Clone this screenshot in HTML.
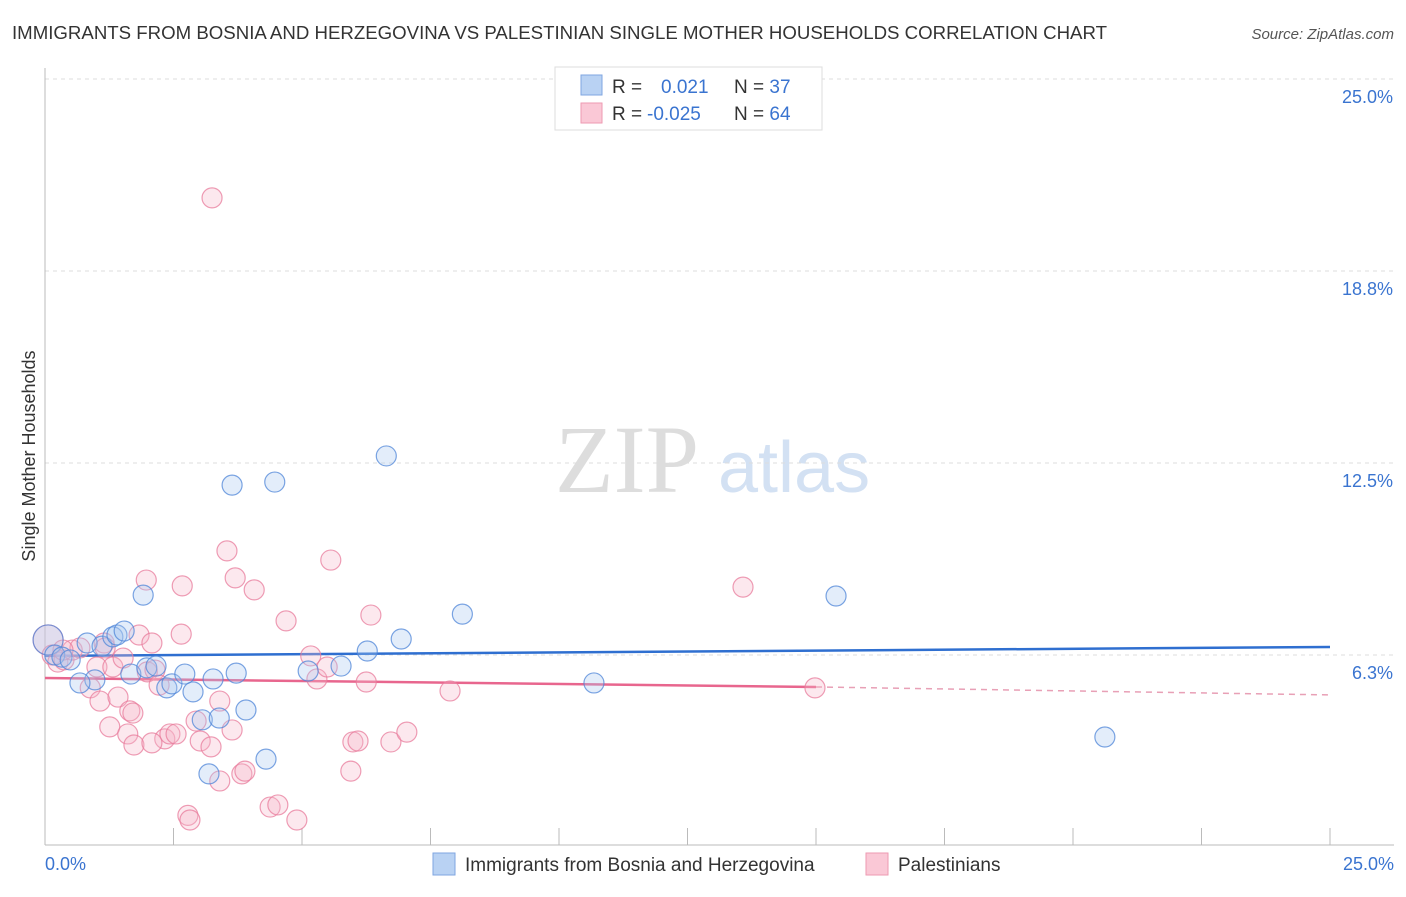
<!DOCTYPE html>
<html><head><meta charset="utf-8"><style>
body{margin:0;background:#fff;font-family:"Liberation Sans",sans-serif}
</style></head><body>
<svg width="1406" height="892" xmlns="http://www.w3.org/2000/svg" style="font-family:'Liberation Sans',sans-serif">
<text x="12" y="39" font-size="18" fill="#333" textLength="1095" lengthAdjust="spacingAndGlyphs">IMMIGRANTS FROM BOSNIA AND HERZEGOVINA VS PALESTINIAN SINGLE MOTHER HOUSEHOLDS CORRELATION CHART</text>
<text x="1394" y="39" font-size="15" fill="#555" font-style="italic" text-anchor="end">Source: ZipAtlas.com</text>
<g>
<text x="555" y="492" font-size="96" fill="#ddd" font-family="Liberation Serif">ZIP</text>
<text x="718" y="492" font-size="72" fill="#d3e1f3">atlas</text>
</g>
<g id="grid"></g>
<g id="axes"></g>
<g id="trend"></g>
<g id="pts"></g>
<text x="35" y="456" font-size="18" fill="#333" text-anchor="middle" transform="rotate(-90 35 456)">Single Mother Households</text>
<text x="45" y="870" font-size="18" fill="#3a74d0">0.0%</text>
<text x="1394" y="870" font-size="18" fill="#3a74d0" text-anchor="end">25.0%</text>
<g>
<rect x="555" y="67" width="267" height="63" fill="#fff" stroke="#ddd"/>
<rect x="581" y="75" width="21" height="20" fill="#b9d2f3" stroke="#7fa6e0"/>
<rect x="581" y="103" width="21" height="20" fill="#fac8d6" stroke="#ee9ab2"/>
<text x="612" y="93" font-size="19" fill="#333">R = <tspan fill="#3a74d0" x="661">0.021</tspan><tspan x="734">N = </tspan><tspan fill="#3a74d0">37</tspan></text>
<text x="612" y="120" font-size="19" fill="#333">R = <tspan fill="#3a74d0" x="647">-0.025</tspan><tspan x="734">N = </tspan><tspan fill="#3a74d0">64</tspan></text>
</g>
<g>
<rect x="433" y="853" width="22" height="22" fill="#b9d2f3" stroke="#7fa6e0"/>
<text x="465" y="871" font-size="19" fill="#333">Immigrants from Bosnia and Herzegovina</text>
<rect x="866" y="853" width="22" height="22" fill="#fac8d6" stroke="#ee9ab2"/>
<text x="898" y="871" font-size="19" fill="#333">Palestinians</text>
</g>
</svg>
<script>
const yTicks=[6.3,12.5,18.8,25.0];
const yTickLabels=["6.3%","12.5%","18.8%","25.0%"];
const xTicks=[0,2.5,5,7.5,10,12.5,15,17.5,20,22.5,25];
const bosniaX=[0.06,0.19,0.33,0.49,0.82,0.97,1.11,1.32,1.40,1.54,1.91,1.67,1.98,2.16,2.37,2.47,2.72,2.88,3.06,3.27,3.39,3.64,3.72,3.91,4.30,4.47,5.12,5.76,6.27,6.64,6.93,8.12,10.68,15.39,20.62,3.19,0.68];
const bosniaY=[6.74,6.25,6.18,6.09,6.64,5.44,6.54,6.84,6.90,7.03,8.20,5.63,5.83,5.89,5.18,5.31,5.63,5.05,4.14,5.47,4.20,11.78,5.66,4.46,2.86,11.88,5.73,5.89,6.38,12.73,6.77,7.58,5.34,8.17,3.58,2.38,5.34];
const palX=[0.06,0.14,0.25,0.37,0.53,0.68,0.88,1.01,1.07,1.15,1.26,1.32,1.42,1.52,1.65,1.61,1.73,1.83,1.97,1.99,2.08,2.14,2.22,2.33,2.43,2.55,2.65,2.67,2.94,3.02,3.23,3.25,3.40,3.40,3.54,3.64,3.70,3.83,3.89,4.07,4.38,4.53,4.69,4.90,5.17,5.29,5.49,5.56,5.99,6.09,5.95,6.25,6.34,6.73,7.04,7.88,13.58,14.98,2.78,2.82,1.71,2.08,0.35,1.17];
const palY=[6.74,6.25,6.02,6.09,6.41,6.48,5.18,5.86,4.75,6.64,3.91,5.86,4.88,6.15,4.43,3.68,3.32,6.90,8.69,5.70,6.64,5.76,5.27,3.52,3.68,3.68,6.93,8.50,4.10,3.45,3.26,21.13,4.75,2.15,9.64,3.81,8.76,2.38,2.47,8.37,1.30,1.37,7.36,0.88,6.22,5.47,5.86,9.34,3.42,3.45,2.47,5.37,7.55,3.42,3.74,5.08,8.46,5.18,1.03,0.88,4.36,3.39,6.41,6.48];
const bosniaTrend=[6.22,6.51];
const palTrend=[5.50,5.21,4.95];
const palSolidEnd=15.0;
const L=45,R=1330,B=847,T=79;
const xs=v=>L+(v/25)*(R-L);
const ys=v=>B-(v/25)*(B-T);
const NS="http://www.w3.org/2000/svg";
function mk(tag,attrs,parent){const e=document.createElementNS(NS,tag);for(const k in attrs)e.setAttribute(k,attrs[k]);parent.appendChild(e);return e;}
const grid=document.getElementById('grid'),axes=document.getElementById('axes'),trend=document.getElementById('trend'),pts=document.getElementById('pts');
yTicks.forEach((t,i)=>{
 const yy=ys(t===6.3?6.25:t===18.8?18.75:t);
 const l=mk('line',{x1:L,x2:1394,y1:yy,y2:yy,stroke:'#ddd','stroke-dasharray':'4,4'},grid);
 
 
 const tx=mk('text',{x:1393,y:yy+24,'font-size':18,fill:'#3a74d0','text-anchor':'end'},grid);
 tx.textContent=yTickLabels[i];
 
 
});
const ax=mk('line',{x1:L,x2:L,y1:68,y2:845,stroke:'#bbb'},axes);


const bx=mk('line',{x1:L,x2:1394,y1:845,y2:845,stroke:'#bbb'},axes);


xTicks.forEach(t=>{
 const tk=mk('line',{x1:xs(t),x2:xs(t),y1:828,y2:845,stroke:'#bbb'},axes);
 
 
});
function addPts(X,Y,fill,stroke,name){
 X.forEach((x,i)=>{
  const r=(i===0)?15:10;
  const c=mk('circle',{cx:xs(x),cy:ys(Y[i]),r:r,fill:fill,'fill-opacity':0.32,stroke:stroke,'stroke-width':1.2,'stroke-opacity':0.75},pts);
  
  
 });
}
addPts(palX,palY,'#f7b6c9','#e87c9c','palestinian-point');
addPts(bosniaX,bosniaY,'#a9c8f0','#4f86d8','bosnia-point');
const bl=mk('line',{x1:xs(0),y1:ys(bosniaTrend[0]),x2:xs(25),y2:ys(bosniaTrend[1]),stroke:'#2f6fd0','stroke-width':2.5},trend);


const pl=mk('line',{x1:xs(0),y1:ys(palTrend[0]),x2:xs(palSolidEnd),y2:ys(palTrend[1]),stroke:'#e8668e','stroke-width':2.5},trend);


const pd=mk('line',{x1:xs(palSolidEnd),y1:ys(palTrend[1]),x2:xs(25),y2:ys(palTrend[2]),stroke:'#e8a0b6','stroke-width':1.5,'stroke-dasharray':'6,5'},trend);


</script>
</body></html>
